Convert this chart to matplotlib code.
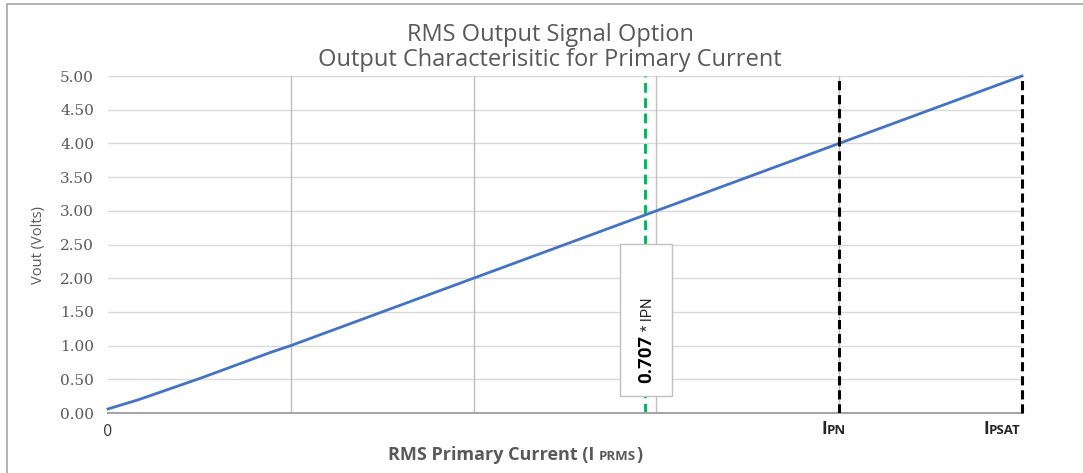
import numpy as np
import matplotlib
matplotlib.use("Agg")
import matplotlib.pyplot as plt
from matplotlib.patches import Rectangle

# Data
current = [0.0, 0.17, 0.34, 0.52, 0.71, 0.89, 1.0, 2.0, 3.0, 4.0, 5.0]
vout = [0.06, 0.2, 0.36, 0.53, 0.72, 0.9, 1.0, 2.0, 3.0, 4.0, 5.0]
x_marker_green = 2.94   # 0.707 * IPN line
x_ipn = 4.0
x_ipsat = 5.0
y_ticks = [0, 0.5, 1.0, 1.5, 2.0, 2.5, 3.0, 3.5, 4.0, 4.5, 5.0]
x_grid = [1, 2, 3, 4]

grey = '#595959'
fam = ['Open Sans', 'DejaVu Sans']

fig = plt.figure(figsize=(10.83, 4.73), dpi=100)
# outer chart border (left/top visible)
fig.patches.append(Rectangle((7 / 1083, -0.1), 1.2, 1.1 - 4 / 473, transform=fig.transFigure,
                             fill=False, edgecolor='#A6A6A6', linewidth=1.2))

ax = fig.add_axes([108 / 1083, 60 / 473, 914 / 1083, 337 / 473])
ax.set_xlim(0, 5)
ax.set_ylim(0, 5)

for y in y_ticks[1:]:
    ax.axhline(y, color='#D9D9D9', linewidth=1.0, zorder=0)
for x in x_grid:
    ax.axvline(x, color='#BFBFBF', linewidth=1.0, zorder=0)

ax.plot(current, vout, color='#4472C4', linewidth=2.0, zorder=3, clip_on=False)

ax.axvline(x_marker_green, color='#00B050', linewidth=2.0, linestyle=(0, (3.5, 2)), zorder=2)
ax.axvline(x_ipn, color='black', linewidth=2.2, linestyle=(0, (3, 1.6)), zorder=4)
ax.axvline(x_ipsat, color='black', linewidth=2.2, linestyle=(0, (3, 1.6)), zorder=4, clip_on=False)

for s in ['top', 'right', 'left']:
    ax.spines[s].set_visible(False)
ax.spines['bottom'].set_color('#A6A6A6')
ax.spines['bottom'].set_linewidth(1.5)

ax.set_yticks(y_ticks)
ax.set_yticklabels([f'{v:.2f}' for v in y_ticks], family='DejaVu Serif', fontsize=11, color=grey)
ax.tick_params(axis='y', length=0, pad=10)
ax.set_xticks([])

ax.text(0, -0.28, '0', ha='center', va='center', fontsize=10.5,
        family='DejaVu Sans', color='#404040')

fig.canvas.draw()
r = fig.canvas.get_renderer()


# write pieces of text one after another on a shared baseline (pixel coords)
def text_run(x_px, y_px, pieces, color):
    for s, size in pieces:
        t = fig.text(x_px / fig.dpi / fig.get_figwidth(), y_px / fig.dpi / fig.get_figheight(), s,
                     ha='left', va='baseline', fontsize=size, fontweight='bold',
                     family=fam, color=color)
        x_px = t.get_window_extent(r).x1


to_px = ax.transData.transform
base_y = 473 - 434
text_run(to_px((x_ipn, 0))[0] - 18, base_y, [('I', 12.5), ('PN', 9.5)], '#262626')
text_run(to_px((x_ipsat, 0))[0] - 39, base_y, [('I', 12.5), ('PSAT', 9.5)], '#262626')

# Annotation box
box_left, box_bottom, box_w, box_h = 2.80, 0.25, 0.285, 2.25
ax.add_patch(Rectangle((box_left, box_bottom), box_w, box_h, facecolor='white',
                       edgecolor='#BFBFBF', linewidth=1.0, zorder=5))
tb = ax.text(x_marker_green + 0.005, 0.44, '0.707', rotation=90, ha='center', va='bottom',
             fontsize=13.5, fontweight='bold', family='Roboto', color='black', zorder=6)
top = ax.transData.inverted().transform(tb.get_window_extent(r).corners()[1])[1]
ax.text(x_marker_green + 0.012, top + 0.06, '* IPN', rotation=90, ha='center', va='bottom',
        fontsize=10.5, family='Roboto', color='#262626', zorder=6)

# Titles
fig.text(0.508, 1 - 35 / 473, 'RMS Output Signal Option', ha='center', va='center',
         fontsize=17, family=fam, color=grey)
fig.text(0.508, 1 - 60 / 473, 'Output Characterisitic for Primary Current', ha='center',
         va='center', fontsize=17, family=fam, color=grey)

ax.set_ylabel('Vout (Volts)', fontsize=10.5, family=fam, color=grey, labelpad=10)

# x axis label with small caps part
text_run(388, 473 - 460, [('RMS Primary Current (I ', 13), ('PRMS', 9.5), (')', 13)], grey)

fig.savefig('out.png', dpi=100)
